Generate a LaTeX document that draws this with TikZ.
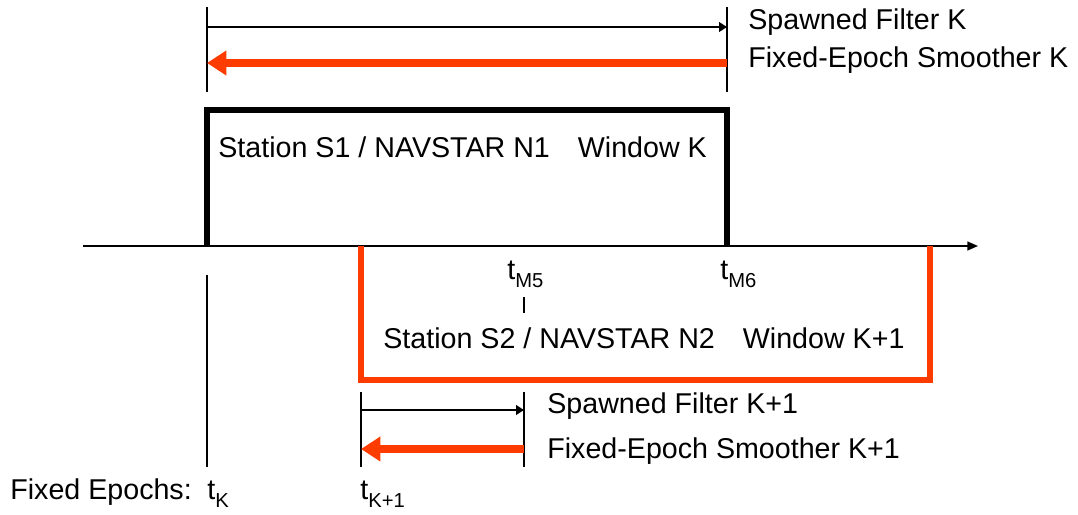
\documentclass[tikz,border=0pt]{standalone}
\usepackage{fontspec}
\setmainfont{Liberation Sans}
\usetikzlibrary{arrows.meta}
\definecolor{smored}{HTML}{FF3C00}

\newcommand{\tsub}[2]{#1\raisebox{-0.55ex}{\fontsize{11.5}{12}\selectfont #2}}

\begin{document}
\begin{tikzpicture}[x=0.02cm, y=-0.02cm, font=\fontsize{16.3}{19}\selectfont,
    epoch/.style={line width=0.6pt, black},
    axis/.style={line width=0.9pt, -{Triangle[length=6pt, width=5pt]}},
    window/.style={line width=2.9pt, line join=miter},
    filt/.style={line width=0.9pt, -{Triangle[length=4.5pt, width=5.5pt]}},
    smoother/.style={line width=4.4pt, smored, -{Triangle[length=11pt, width=13.5pt]}},
    lab/.style={anchor=west, inner sep=0pt},
    tlab/.style={anchor=west, inner sep=0pt}]
\useasboundingbox (0,0) rectangle (1078,514);

% Time axis and epoch marks
\coordinate (ax0) at (83,246);
\coordinate (ax1) at (978,246);
\coordinate (tK) at (207,246);
\coordinate (tK1) at (361,246);
\coordinate (tM5) at (524,246);
\coordinate (tM6) at (727,246);
\coordinate (tEnd) at (930,246);
\draw[axis] (ax0) -- (ax1);

% Window K (black)
\draw[window] (tK) -- (207,110) -- (727,110) -- (tM6);
\node[lab] (win1) at (218,147) {Station S1 / NAVSTAR N1\hspace{0.7em} Window K};

% Window K+1 (red)
\draw[window, smored] (tK1) -- (361,380) -- (930,380) -- (tEnd);
\node[lab] (win2) at (383,338) {Station S2 / NAVSTAR N2\hspace{0.7em} Window K+1};

% Filter / smoother pass for window K
\coordinate (a0) at (207,7);   \coordinate (a1) at (207,92);
\coordinate (b0) at (727,7);   \coordinate (b1) at (727,92);
\draw[epoch] (a0) -- (a1);
\draw[epoch] (b0) -- (b1);
\draw[filt] (207,27) -- (727,27);
\draw[smoother] (727,63) -- (207,63);
\node[lab] (spK) at (748,22) {Spawned Filter K};
\node[lab] (smK) at (748,60) {Fixed-Epoch Smoother K};

% Filter / smoother pass for window K+1
\coordinate (c0) at (361,392); \coordinate (c1) at (361,467);
\coordinate (d0) at (524,392); \coordinate (d1) at (524,467);
\draw[epoch] (c0) -- (c1);
\draw[epoch] (d0) -- (d1);
\draw[epoch] (207,275) -- (207,467);
\draw[filt] (361,410) -- (524,410);
\draw[smoother] (524,449) -- (361,449);
\node[lab] (spK1) at (547,406) {Spawned Filter K+1};
\node[lab] (smK1) at (547,451) {Fixed-Epoch Smoother K+1};

% Measurement times
\node[tlab] (m5) at (507,274) {\tsub{t}{M5}};
\draw[epoch] (524,297) -- (524,313);
\node[tlab] (m6) at (720,274) {\tsub{t}{M6}};

% Fixed epochs
\node[lab] (fe) at (10,492) {Fixed Epochs:};
\node[tlab] (eK) at (207,494) {\tsub{t}{K}};
\node[tlab] (eK1) at (360,494) {\tsub{t}{K+1}};
\end{tikzpicture}
\end{document}
